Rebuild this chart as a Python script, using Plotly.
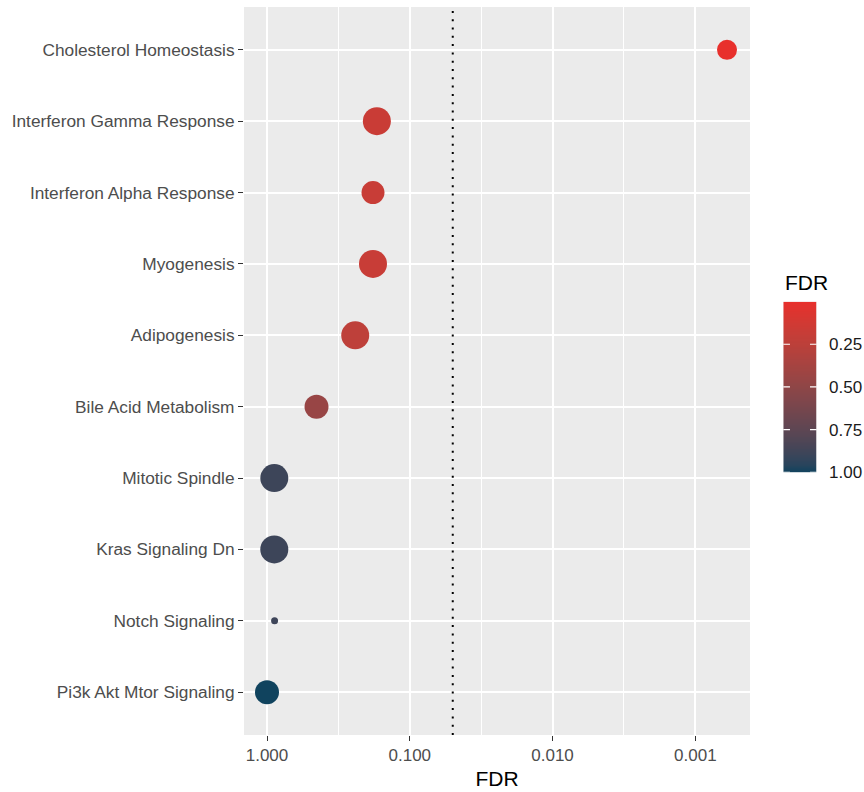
import numpy as np
import plotly.graph_objects as go

# Hallmark gene sets, top to bottom
pathways = [
    "Cholesterol Homeostasis",
    "Interferon Gamma Response",
    "Interferon Alpha Response",
    "Myogenesis",
    "Adipogenesis",
    "Bile Acid Metabolism",
    "Mitotic Spindle",
    "Kras Signaling Dn",
    "Notch Signaling",
    "Pi3k Akt Mtor Signaling",
]
fdr = [0.0006, 0.170, 0.181, 0.181, 0.241, 0.450, 0.889, 0.889, 0.885, 1.000]
point_size = [20, 28, 23, 28, 28, 24, 28, 28, 7, 24]
fdr_cutoff = 0.05
fdr_ticks = [1.0, 0.1, 0.01, 0.001]
bar_ticks = [0.25, 0.50, 0.75, 1.00]

LOW_COL = "#E8302C"   # small FDR
HIGH_COL = "#10435E"  # FDR = 1
FONT = "Liberation Sans, Arial, sans-serif"


# --- Lab-space gradient (like ggplot's scale_colour_gradient) ---
def _hex_rgb(h):
    h = h.lstrip("#")
    return [int(h[i:i + 2], 16) / 255 for i in (0, 2, 4)]


def _rgb_lab(rgb):
    lin = [c / 12.92 if c <= 0.04045 else ((c + 0.055) / 1.055) ** 2.4 for c in rgb]
    r, g, b = lin
    x = (0.4124 * r + 0.3576 * g + 0.1805 * b) / 0.95047
    y = (0.2126 * r + 0.7152 * g + 0.0722 * b) / 1.0
    z = (0.0193 * r + 0.1192 * g + 0.9505 * b) / 1.08883

    def f(t):
        return t ** (1 / 3) if t > 0.008856 else 7.787 * t + 16 / 116

    fx, fy, fz = f(x), f(y), f(z)
    return [116 * fy - 16, 500 * (fx - fy), 200 * (fy - fz)]


def _lab_hex(lab):
    L, a, b = lab
    fy = (L + 16) / 116
    fx = fy + a / 500
    fz = fy - b / 200

    def finv(t):
        return t ** 3 if t ** 3 > 0.008856 else (t - 16 / 116) / 7.787

    x, y, z = finv(fx) * 0.95047, finv(fy), finv(fz) * 1.08883
    r = 3.2406 * x - 1.5372 * y - 0.4986 * z
    g = -0.9689 * x + 1.8758 * y + 0.0415 * z
    bb = 0.0557 * x - 0.2040 * y + 1.0570 * z
    out = []
    for c in (r, g, bb):
        c = 12.92 * c if c <= 0.0031308 else 1.055 * c ** (1 / 2.4) - 0.055
        out.append(int(round(min(max(c, 0), 1) * 255)))
    return "#%02x%02x%02x" % tuple(out)


lab_hi = _rgb_lab(_hex_rgb(HIGH_COL))
lab_lo = _rgb_lab(_hex_rgb(LOW_COL))
colorscale = []
for s in np.linspace(0, 1, 21):
    # s = 0 -> FDR 1 (blue), s = 1 -> smallest FDR (red)
    lab = [h + (l - h) * s for h, l in zip(lab_hi, lab_lo)]
    colorscale.append([float(s), _lab_hex(lab)])

fdr_min, fdr_max = min(fdr), max(fdr)
lmin, lmax = np.log10(fdr_min), np.log10(fdr_max)
pad = 0.05 * (lmax - lmin)
n = len(pathways)

# page geometry (pixels); the paper runs from the panel's left edge to the page edge
W, H = 864, 792
ML, MT, MB = 244, 7, 57
PANEL_RIGHT = 750
PW, PH = W - ML, H - MT - MB
CB_LEFT, CB_RIGHT = 783.3, 816.7
CB_TOP, CB_BOTTOM = 301.7, 472.3


def px_x(px):
    return (px - ML) / PW


def px_y(py):
    return (H - MB - py) / PH


fig = go.Figure()

# significance threshold
fig.add_trace(go.Scatter(
    x=[fdr_cutoff, fdr_cutoff], y=[0, 1], yaxis="y2", mode="lines",
    line=dict(color="black", width=2, dash="2px,6.3px"),
    hoverinfo="skip", showlegend=False,
))

fig.add_trace(go.Scatter(
    x=fdr, y=pathways, mode="markers",
    marker=dict(
        size=point_size, sizemode="diameter",
        color=[-v for v in fdr], colorscale=colorscale,
        cmin=-fdr_max, cmax=-fdr_min, line=dict(width=0), opacity=1,
        showscale=False,
    ),
    showlegend=False,
))

# colour bar legend, drawn as a thin heatmap on its own axes
bar_vals = np.linspace(fdr_min, fdr_max, 200)
fig.add_trace(go.Heatmap(
    x=[0], y=bar_vals, z=[[-v] for v in bar_vals],
    colorscale=colorscale, zmin=-fdr_max, zmax=-fdr_min,
    showscale=False, zsmooth="best", hoverinfo="skip",
    xaxis="x3", yaxis="y3",
))

for v in bar_ticks:
    for x0, x1 in ((0, 0.2), (0.8, 1)):
        fig.add_shape(type="line", xref="x3 domain", yref="y3",
                      x0=x0, x1=x1, y0=v, y1=v,
                      line=dict(color="white", width=1.2), layer="above")

fig.add_annotation(
    text="FDR", xref="paper", yref="paper",
    x=px_x(782.5), xanchor="left",
    y=px_y(282.5), yanchor="middle",
    showarrow=False,
    font=dict(size=21, color="black", family=FONT),
)

grid_minor = [10 ** (-k - 0.5) for k in range(-1, 4)]

fig.update_layout(
    width=W, height=H,
    margin=dict(l=ML, r=0, t=MT, b=MB, autoexpand=False),
    paper_bgcolor="white", plot_bgcolor="#EBEBEB",
    font=dict(family=FONT),
    xaxis=dict(
        domain=[0, px_x(PANEL_RIGHT)],
        type="log", range=[lmax + pad, lmin - pad],
        tickvals=fdr_ticks, ticktext=["%.3f" % v for v in fdr_ticks],
        tickfont=dict(size=17, color="#4D4D4D"),
        ticks="outside", ticklen=5, tickcolor="#333333", tickwidth=1,
        showgrid=True, gridcolor="white", gridwidth=2,
        minor=dict(tickvals=grid_minor, showgrid=True, gridcolor="white",
                   gridwidth=1, ticks=""),
        zeroline=False, showline=False,
        title=dict(text="FDR", font=dict(size=21, color="black"), standoff=6),
    ),
    yaxis=dict(
        type="category", categoryorder="array", categoryarray=pathways,
        range=[n - 0.4, -0.6],
        tickfont=dict(size=17.3, color="#4D4D4D"),
        ticks="outside", ticklen=5, tickcolor="#333333", tickwidth=1,
        showgrid=True, gridcolor="white", gridwidth=2,
        zeroline=False, showline=False,
    ),
    yaxis2=dict(overlaying="y", range=[0, 1], visible=False, fixedrange=True),
    xaxis3=dict(domain=[px_x(CB_LEFT), px_x(CB_RIGHT)], anchor="y3",
                range=[-0.5, 0.5], visible=False, fixedrange=True),
    yaxis3=dict(domain=[px_y(CB_BOTTOM), px_y(CB_TOP)], anchor="x3",
                range=[fdr_max, fdr_min], side="right",
                tickvals=bar_ticks, ticktext=["%.2f" % v for v in bar_ticks],
                tickfont=dict(size=17, color="#1a1a1a"),
                ticks="outside", ticklen=8, tickcolor="rgba(0,0,0,0)",
                showgrid=False, zeroline=False, showline=False, fixedrange=True),
)

fig.write_html("out.html")
